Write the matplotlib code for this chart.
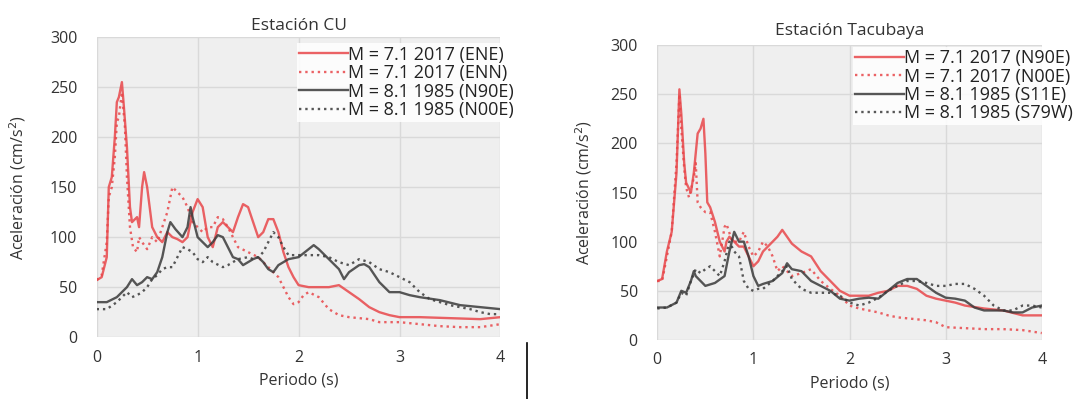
import numpy as np
import matplotlib
matplotlib.use("Agg")
import matplotlib.pyplot as plt
from matplotlib.lines import Line2D

plt.rcParams['font.family'] = ['Open Sans', 'DejaVu Sans']

# ---------------- Estacion CU ----------------
cu_ene_t = [0, 0.05, 0.1, 0.12, 0.15, 0.18, 0.2, 0.22, 0.25, 0.27, 0.3, 0.33, 0.35, 0.4, 0.42, 0.45, 0.47, 0.5,
            0.55, 0.6, 0.65, 0.7, 0.75, 0.8, 0.85, 0.9, 0.95, 1.0, 1.05, 1.1, 1.15, 1.2, 1.25, 1.3, 1.35, 1.4,
            1.45, 1.5, 1.55, 1.6, 1.65, 1.7, 1.75, 1.8, 1.85, 1.9, 1.95, 2.0, 2.1, 2.2, 2.3, 2.4, 2.5, 2.6,
            2.7, 2.8, 2.9, 3.0, 3.2, 3.5, 3.8, 4.0]
cu_ene_v = [57, 60, 80, 150, 160, 200, 235, 240, 255, 230, 190, 130, 115, 120, 110, 150, 165, 150,
            110, 100, 95, 105, 100, 98, 95, 100, 125, 138, 130, 100, 90, 110, 115, 110, 105, 120,
            133, 130, 115, 100, 105, 118, 118, 105, 85, 70, 60, 52, 50, 50, 50, 52, 45, 38,
            30, 25, 22, 20, 20, 19, 18, 20]

cu_enn_t = [0, 0.05, 0.1, 0.12, 0.15, 0.18, 0.2, 0.22, 0.25, 0.28, 0.3, 0.33, 0.36, 0.4, 0.42, 0.45, 0.5,
            0.55, 0.6, 0.65, 0.7, 0.75, 0.8, 0.85, 0.9, 0.95, 1.0, 1.05, 1.1, 1.15, 1.2, 1.25, 1.3, 1.35,
            1.4, 1.5, 1.6, 1.7, 1.8, 1.9, 1.95, 2.0, 2.05, 2.1, 2.2, 2.3, 2.4, 2.5, 2.7, 2.8, 3.0, 3.2,
            3.4, 3.6, 3.8, 4.0]
cu_enn_v = [57, 62, 95, 140, 150, 180, 215, 220, 245, 210, 160, 110, 90, 85, 100, 95, 88,
            100, 95, 110, 125, 150, 145, 140, 130, 115, 110, 105, 110, 110, 120, 118, 110, 100,
            90, 85, 80, 70, 60, 40, 33, 35, 42, 45, 40, 28, 22, 20, 18, 15, 15, 13,
            11, 10, 10, 13]

cu_n90e_t = [0, 0.1, 0.2, 0.25, 0.3, 0.35, 0.4, 0.45, 0.5, 0.55, 0.6, 0.65, 0.7, 0.73, 0.78, 0.85, 0.9,
             0.93, 0.95, 1.0, 1.05, 1.1, 1.15, 1.2, 1.25, 1.3, 1.35, 1.4, 1.45, 1.5, 1.55, 1.6, 1.65,
             1.7, 1.75, 1.8, 1.9, 2.0, 2.1, 2.15, 2.2, 2.3, 2.4, 2.45, 2.5, 2.6, 2.65, 2.7, 2.8, 2.9,
             3.0, 3.1, 3.2, 3.4, 3.6, 3.8, 4.0]
cu_n90e_v = [35, 35, 40, 45, 50, 58, 52, 55, 60, 58, 65, 80, 105, 115, 108, 100, 110,
             130, 120, 100, 95, 90, 95, 102, 100, 90, 80, 78, 72, 75, 78, 80, 75,
             68, 65, 72, 78, 80, 88, 92, 88, 78, 68, 58, 65, 72, 73, 70, 55, 45,
             45, 42, 40, 37, 32, 30, 28]

cu_n00e_t = [0, 0.1, 0.2, 0.3, 0.35, 0.4, 0.45, 0.5, 0.55, 0.6, 0.65, 0.7, 0.75, 0.8, 0.85, 0.9, 0.95,
             1.0, 1.05, 1.1, 1.15, 1.25, 1.3, 1.35, 1.4, 1.5, 1.55, 1.6, 1.65, 1.7, 1.75, 1.8, 1.85,
             1.9, 2.0, 2.1, 2.2, 2.3, 2.4, 2.5, 2.6, 2.7, 2.8, 2.9, 3.0, 3.1, 3.2, 3.3, 3.4, 3.5,
             3.6, 3.7, 3.8, 3.9, 4.0]
cu_n00e_v = [28, 28, 35, 45, 40, 42, 45, 50, 58, 62, 68, 70, 70, 80, 90, 88, 85,
             78, 75, 80, 75, 70, 72, 75, 78, 80, 78, 80, 85, 95, 105, 100, 90,
             82, 82, 82, 82, 80, 75, 72, 78, 75, 68, 65, 60, 55, 45, 38, 35, 32,
             30, 28, 25, 23, 23]

# ---------------- Estacion Tacubaya ----------------
tb_n90e_t = [0, 0.05, 0.1, 0.15, 0.2, 0.23, 0.25, 0.28, 0.3, 0.35, 0.38, 0.42, 0.45, 0.48, 0.5, 0.52,
             0.55, 0.6, 0.65, 0.7, 0.72, 0.75, 0.8, 0.85, 0.9, 0.95, 1.0, 1.05, 1.1, 1.15, 1.2, 1.25,
             1.3, 1.35, 1.4, 1.5, 1.6, 1.7, 1.8, 1.9, 2.0, 2.1, 2.2, 2.3, 2.4, 2.5, 2.6, 2.7, 2.8,
             2.9, 3.0, 3.1, 3.2, 3.4, 3.6, 3.8, 4.0]
tb_n90e_v = [60, 62, 90, 110, 170, 255, 230, 180, 160, 150, 170, 210, 215, 225, 190, 140,
             135, 120, 100, 90, 100, 105, 100, 95, 95, 85, 75, 80, 90, 95, 100, 105,
             112, 105, 98, 90, 85, 70, 60, 50, 45, 45, 45, 48, 50, 55, 55, 52, 45,
             42, 40, 38, 35, 32, 30, 25, 25]

tb_n00e_t = [0, 0.05, 0.1, 0.15, 0.2, 0.23, 0.25, 0.28, 0.3, 0.33, 0.38, 0.4, 0.42, 0.45, 0.5, 0.55,
             0.6, 0.65, 0.7, 0.72, 0.78, 0.85, 0.9, 0.95, 1.0, 1.05, 1.1, 1.15, 1.2, 1.25, 1.3, 1.4,
             1.5, 1.6, 1.7, 1.8, 1.9, 2.0, 2.1, 2.2, 2.3, 2.4, 2.5, 2.6, 2.8, 2.9, 3.0, 3.2, 3.4,
             3.6, 3.8, 4.0]
tb_n00e_v = [60, 60, 85, 110, 180, 250, 215, 175, 155, 145, 165, 180, 140, 135, 130, 130,
             110, 85, 115, 118, 100, 100, 110, 95, 85, 90, 100, 95, 85, 70, 75, 65,
             68, 72, 60, 52, 45, 35, 32, 30, 28, 25, 23, 22, 20, 18, 13, 12, 11,
             11, 10, 7]

tb_s11e_t = [0, 0.1, 0.2, 0.25, 0.3, 0.35, 0.38, 0.4, 0.45, 0.5, 0.6, 0.7, 0.75, 0.8, 0.85, 0.9, 0.95,
             1.0, 1.05, 1.1, 1.2, 1.3, 1.35, 1.4, 1.5, 1.6, 1.7, 1.8, 1.9, 2.0, 2.1, 2.2, 2.3, 2.4,
             2.5, 2.6, 2.7, 2.8, 2.9, 3.0, 3.1, 3.2, 3.3, 3.4, 3.5, 3.6, 3.7, 3.8, 3.9, 4.0]
tb_s11e_v = [33, 33, 38, 50, 48, 60, 70, 65, 60, 55, 58, 65, 90, 110, 100, 100, 85,
             65, 55, 57, 60, 68, 78, 72, 70, 60, 55, 50, 42, 40, 42, 43, 42, 50,
             58, 62, 62, 55, 48, 43, 42, 40, 33, 30, 30, 30, 28, 28, 33, 35]

tb_s79w_t = [0, 0.1, 0.2, 0.25, 0.3, 0.35, 0.4, 0.45, 0.5, 0.55, 0.6, 0.65, 0.7, 0.75, 0.8, 0.85, 0.9,
             0.95, 1.0, 1.05, 1.1, 1.2, 1.3, 1.35, 1.4, 1.5, 1.6, 1.7, 1.8, 1.9, 2.0, 2.1, 2.2, 2.3,
             2.4, 2.5, 2.6, 2.7, 2.8, 2.9, 3.0, 3.1, 3.2, 3.3, 3.4, 3.5, 3.6, 3.7, 3.8, 3.9, 4.0]
tb_s79w_v = [32, 33, 38, 48, 45, 60, 72, 68, 72, 75, 70, 65, 80, 100, 90, 85, 60,
             52, 50, 52, 52, 60, 70, 75, 62, 52, 48, 48, 48, 45, 38, 35, 38, 43,
             50, 55, 60, 60, 58, 55, 55, 57, 57, 52, 45, 35, 30, 30, 35, 35, 33]

RED = '#e8474a'
DARK = '#3a3a3a'
BG = '#efefef'
GRID = '#d9d9d9'


def draw_panel(ax, title, series, title_pad, ylabelpad, leg_anchor):
    ax.set_facecolor(BG)
    for t, v, c, ls, lab in series:
        ax.plot(t, v, color=c, linestyle=ls, linewidth=1.7, alpha=0.85, label=lab)
    ax.set_xlim(0, 4)
    ax.set_ylim(0, 300)
    ax.set_xticks([0, 1, 2, 3, 4])
    ax.set_yticks(np.arange(0, 301, 50))
    ax.grid(True, color=GRID, linewidth=1.0)
    ax.set_axisbelow(True)
    for s in ax.spines.values():
        s.set_visible(False)
    ax.tick_params(axis='y', length=0, labelsize=11.5, colors='#333333', pad=14)
    ax.tick_params(axis='x', length=0, labelsize=11.5, colors='#333333', pad=9)
    ax.set_xlabel('Periodo (s)', fontsize=11.5, color='#333333', labelpad=5)
    ax.set_ylabel('Aceleración (cm/s$^2$)', fontsize=11.5, color='#333333', labelpad=ylabelpad)
    ax.set_title(title, fontsize=12.5, color='#333333', pad=title_pad)
    leg = ax.legend(loc='upper right', bbox_to_anchor=leg_anchor, fontsize=13,
                    frameon=True, fancybox=False, handlelength=2.7, handletextpad=0.0,
                    labelspacing=0.02, borderpad=0.15, borderaxespad=0.0)
    leg.get_frame().set_facecolor('white')
    leg.get_frame().set_edgecolor('none')
    leg.get_frame().set_alpha(0.85)
    for txt in leg.get_texts():
        txt.set_color('#222222')


fig = plt.figure(figsize=(10.74, 3.99), dpi=100)
ax1 = fig.add_axes([0.090, 0.155, 0.376, 0.752])
ax2 = fig.add_axes([0.612, 0.148, 0.358, 0.739])

draw_panel(ax1, 'Estación CU', [
    (cu_ene_t, cu_ene_v, RED, '-', 'M = 7.1 2017 (ENE)'),
    (cu_enn_t, cu_enn_v, RED, ':', 'M = 7.1 2017 (ENN)'),
    (cu_n90e_t, cu_n90e_v, DARK, '-', 'M = 8.1 1985 (N90E)'),
    (cu_n00e_t, cu_n00e_v, DARK, ':', 'M = 8.1 1985 (N00E)'),
], 5, 16, (1.04, 0.98))

draw_panel(ax2, 'Estación Tacubaya', [
    (tb_n90e_t, tb_n90e_v, RED, '-', 'M = 7.1 2017 (N90E)'),
    (tb_n00e_t, tb_n00e_v, RED, ':', 'M = 7.1 2017 (N00E)'),
    (tb_s11e_t, tb_s11e_v, DARK, '-', 'M = 8.1 1985 (S11E)'),
    (tb_s79w_t, tb_s79w_v, DARK, ':', 'M = 8.1 1985 (S79W)'),
], 7, 12, (1.088, 0.995))

# stray vertical mark between the panels
fig.add_artist(Line2D([0.4907, 0.4907], [0.0, 0.14], color='black', linewidth=1.2))

fig.savefig('out.png', dpi=100, facecolor='white')
